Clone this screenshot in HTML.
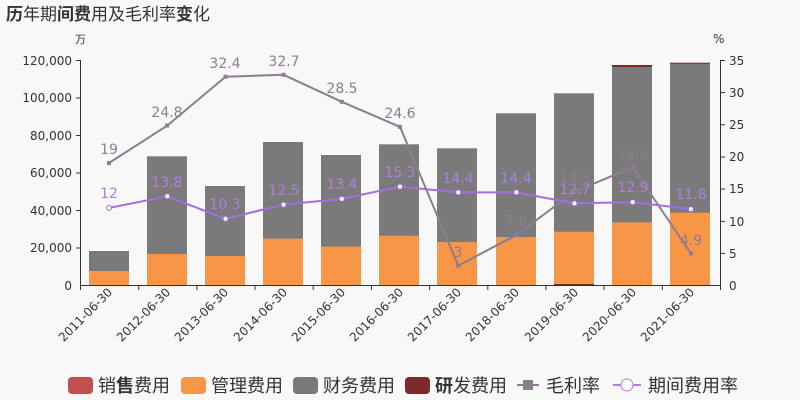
<!DOCTYPE html>
<html><head><meta charset="utf-8"><style>
body{margin:0;background:#f8f8f8;}
svg{display:block;font-family:"DejaVu Sans","Noto Sans CJK SC",sans-serif;}
</style></head><body>
<svg width="800" height="400" viewBox="0 0 800 400">
<rect width="800" height="400" fill="#f8f8f8"/>
<text x="6" y="20" font-size="17" fill="#333" font-family="'Noto Sans CJK SC',sans-serif"><tspan font-weight="bold">历</tspan>年期<tspan font-weight="bold">间费</tspan>用及毛利率<tspan font-weight="bold">变</tspan>化</text>
<text x="75" y="43" font-size="11" fill="#333" font-family="'Noto Sans CJK SC',sans-serif">万</text>
<text x="713" y="43" font-size="12" fill="#333">%</text>
<g font-size="12" fill="#333" text-anchor="end">
<text x="72" y="65">120,000</text><text x="72" y="102">100,000</text><text x="72" y="140">80,000</text><text x="72" y="177">60,000</text><text x="72" y="215">40,000</text><text x="72" y="252">20,000</text><text x="72" y="290">0</text>
</g>
<g font-size="12" fill="#333">
<text x="729" y="65">35</text><text x="729" y="97">30</text><text x="729" y="129">25</text><text x="729" y="161">20</text><text x="729" y="193">15</text><text x="729" y="226">10</text><text x="729" y="258">5</text><text x="729" y="290">0</text>
</g>
<g stroke="#333" stroke-width="1">
<line x1="80.5" y1="60" x2="80.5" y2="285"/><line x1="720.5" y1="60" x2="720.5" y2="285"/>
<line x1="80" y1="285.5" x2="720" y2="285.5"/>
<line x1="76" y1="60.5" x2="80" y2="60.5"/><line x1="76" y1="98" x2="80" y2="98"/><line x1="76" y1="135.5" x2="80" y2="135.5"/><line x1="76" y1="173" x2="80" y2="173"/><line x1="76" y1="210.5" x2="80" y2="210.5"/><line x1="76" y1="248" x2="80" y2="248"/>
<line x1="720" y1="60.5" x2="725" y2="60.5"/><line x1="720" y1="92.6" x2="725" y2="92.6"/><line x1="720" y1="124.8" x2="725" y2="124.8"/><line x1="720" y1="157" x2="725" y2="157"/><line x1="720" y1="189" x2="725" y2="189"/><line x1="720" y1="221.3" x2="725" y2="221.3"/><line x1="720" y1="253.4" x2="725" y2="253.4"/>
<path d="M80.5 285v5M138.7 285v5M196.9 285v5M255 285v5M313.2 285v5M371.4 285v5M429.6 285v5M487.8 285v5M545.9 285v5M604.1 285v5M662.3 285v5M720.5 285v5"/>
</g>
<g fill="#7a7a7a">
<rect x="89" y="251" width="40" height="34"/><rect x="147" y="156.3" width="40" height="128.7"/><rect x="205" y="186" width="40" height="99"/><rect x="263" y="142" width="40" height="143"/><rect x="321" y="155" width="40" height="130"/><rect x="379" y="144.3" width="40" height="140.7"/><rect x="437" y="148.3" width="40" height="136.7"/><rect x="496" y="113.3" width="40" height="171.7"/><rect x="554" y="93.3" width="40" height="191.7"/><rect x="612" y="67" width="40" height="218"/><rect x="670" y="63.5" width="40" height="221.5"/>
</g>
<g fill="#7b2b2b"><rect x="612" y="65" width="40" height="2"/><rect x="670" y="62.7" width="40" height="1"/><rect x="554" y="284" width="40" height="1"/></g>
<g fill="#f79646">
<rect x="89" y="271" width="40" height="14"/><rect x="147" y="254" width="40" height="31"/><rect x="205" y="256" width="40" height="29"/><rect x="263" y="238.7" width="40" height="46.3"/><rect x="321" y="246.7" width="40" height="38.3"/><rect x="379" y="235.7" width="40" height="49.3"/><rect x="437" y="242" width="40" height="43"/><rect x="496" y="237" width="40" height="48"/><rect x="554" y="231.7" width="40" height="52.3"/><rect x="612" y="222.3" width="40" height="62.7"/><rect x="670" y="212.7" width="40" height="72.3"/>
</g>
<polyline fill="none" stroke="#8c7d8f" stroke-width="2" points="109.1,162.9 167.3,125.6 225.5,76.7 283.6,74.8 341.8,101.8 400,126.9 458.2,265.7 516.4,234.9 574.5,191.7 632.7,167.3 690.9,253.5"/>
<g fill="#8c7d8f"><rect x="107" y="161" width="4" height="4"/><rect x="165" y="123.6" width="4" height="4"/><rect x="223.5" y="74.7" width="4" height="4"/><rect x="281.6" y="72.8" width="4" height="4"/><rect x="339.8" y="99.8" width="4" height="4"/><rect x="398" y="124.9" width="4" height="4"/><rect x="456.2" y="263.7" width="4" height="4"/><rect x="514.4" y="232.9" width="4" height="4"/><rect x="572.5" y="189.7" width="4" height="4"/><rect x="630.7" y="165.3" width="4" height="4"/><rect x="688.9" y="251.5" width="4" height="4"/></g>
<g font-size="14" fill="#8c7d8f" text-anchor="middle">
<text x="109" y="154">19</text><text x="167" y="117">24.8</text><text x="225" y="68">32.4</text><text x="284" y="66">32.7</text><text x="342" y="93">28.5</text><text x="400" y="118">24.6</text><text x="458" y="257">3</text><text x="516" y="226">7.8</text><text x="575" y="183">14.5</text><text x="633" y="159">18.3</text><text x="691" y="245">4.9</text>
</g>
<polyline fill="none" stroke="#a46ee0" stroke-width="2" points="109.1,207.9 167.3,196.3 225.5,218.8 283.6,204.6 341.8,198.9 400,186.6 458.2,192.4 516.4,192.4 574.5,203.4 632.7,202.1 690.9,209.1"/>
<g fill="#fff" stroke="#a46ee0" stroke-width="1"><circle cx="109.1" cy="207.9" r="2.5"/><circle cx="167.3" cy="196.3" r="2.5"/><circle cx="225.5" cy="218.8" r="2.5"/><circle cx="283.6" cy="204.6" r="2.5"/><circle cx="341.8" cy="198.9" r="2.5"/><circle cx="400" cy="186.6" r="2.5"/><circle cx="458.2" cy="192.4" r="2.5"/><circle cx="516.4" cy="192.4" r="2.5"/><circle cx="574.5" cy="203.4" r="2.5"/><circle cx="632.7" cy="202.1" r="2.5"/><circle cx="690.9" cy="209.1" r="2.5"/></g>
<g font-size="14" fill="#b07ee0" text-anchor="middle">
<text x="109" y="198">12</text><text x="167" y="187">13.8</text><text x="225" y="209">10.3</text><text x="284" y="195">12.5</text><text x="342" y="189">13.4</text><text x="400" y="177">15.3</text><text x="458" y="183">14.4</text><text x="516" y="183">14.4</text><text x="575" y="194">12.7</text><text x="633" y="192">12.9</text><text x="691" y="199">11.8</text>
</g>
<g font-size="12" fill="#333" text-anchor="end">
<text transform="translate(113,293) rotate(-45)">2011-06-30</text><text transform="translate(171,293) rotate(-45)">2012-06-30</text><text transform="translate(229,293) rotate(-45)">2013-06-30</text><text transform="translate(288,293) rotate(-45)">2014-06-30</text><text transform="translate(346,293) rotate(-45)">2015-06-30</text><text transform="translate(404,293) rotate(-45)">2016-06-30</text><text transform="translate(462,293) rotate(-45)">2017-06-30</text><text transform="translate(520,293) rotate(-45)">2018-06-30</text><text transform="translate(579,293) rotate(-45)">2019-06-30</text><text transform="translate(637,293) rotate(-45)">2020-06-30</text><text transform="translate(695,293) rotate(-45)">2021-06-30</text>
</g>
<g font-size="18" fill="#333" font-family="'Noto Sans CJK SC',sans-serif">
<rect x="68" y="377" width="25" height="17" rx="4" fill="#c0504d"/><text x="98" y="392">销<tspan font-weight="bold">售</tspan>费用</text>
<rect x="181" y="377" width="25" height="17" rx="4" fill="#f79646"/><text x="211" y="392">管理费用</text>
<rect x="293" y="377" width="25" height="17" rx="4" fill="#7a7a7a"/><text x="323" y="392">财务费用</text>
<rect x="405" y="377" width="25" height="17" rx="4" fill="#7b2b2b"/><text x="435" y="392"><tspan font-weight="bold">研</tspan>发费用</text>
<line x1="517" y1="385" x2="539" y2="385" stroke="#8c7d8f" stroke-width="2"/><rect x="523" y="380" width="10" height="10" fill="#8c7d8f"/><text x="546" y="392">毛利率</text>
<line x1="613" y1="385" x2="641" y2="385" stroke="#b07ee0" stroke-width="2"/><circle cx="627" cy="385" r="6" fill="#fff" stroke="#b07ee0"/><text x="648" y="392">期间费用率</text>
</g>
</svg>
</body></html>
